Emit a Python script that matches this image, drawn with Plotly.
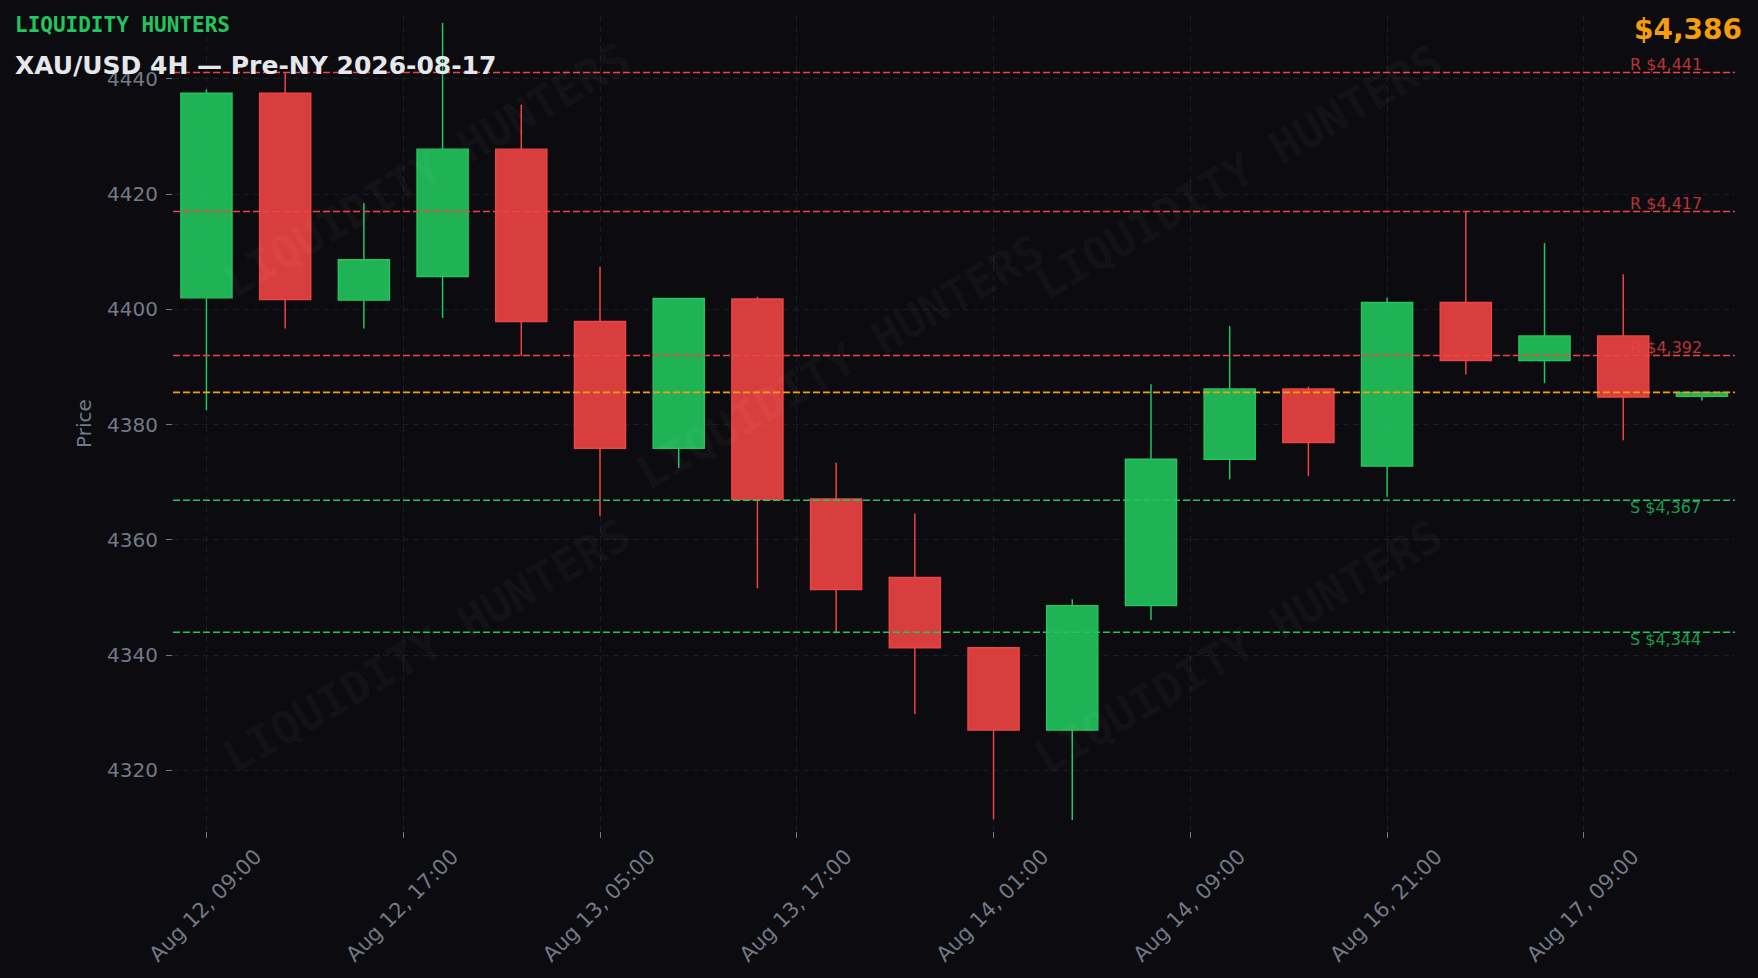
import plotly.graph_objects as go

# ---------------- data ----------------
opens = [4402.0, 4437.5, 4401.6, 4405.7, 4427.8, 4397.9, 4375.9, 4401.8, 4367.1, 4353.5,
         4341.3, 4327.0, 4348.6, 4374.0, 4386.2, 4372.8, 4401.2, 4391.1, 4395.4, 4384.9]
closes = [4437.5, 4401.7, 4408.6, 4427.8, 4397.9, 4375.9, 4401.9, 4367.0, 4351.4, 4341.3,
          4327.0, 4348.6, 4374.0, 4386.2, 4376.9, 4401.2, 4391.1, 4395.4, 4384.8, 4385.6]
highs = [4438.2, 4441.0, 4418.4, 4449.7, 4435.5, 4407.4, 4401.9, 4402.2, 4373.4, 4364.6,
         4341.3, 4349.7, 4387.0, 4397.1, 4386.6, 4402.0, 4416.9, 4411.5, 4406.1, 4385.7]
lows = [4382.5, 4396.7, 4396.7, 4398.5, 4391.9, 4364.2, 4372.5, 4351.6, 4343.8, 4329.8,
        4311.5, 4311.4, 4346.1, 4370.5, 4371.1, 4367.5, 4388.7, 4387.2, 4377.3, 4384.2]

tick_positions = [0, 2.5, 5, 7.5, 10, 12.5, 15, 17.5]
tick_labels = ["Aug 12, 09:00", "Aug 12, 17:00", "Aug 13, 05:00", "Aug 13, 17:00",
               "Aug 14, 01:00", "Aug 14, 09:00", "Aug 16, 21:00", "Aug 17, 09:00"]
price_ticks = [4320, 4340, 4360, 4380, 4400, 4420, 4440]

level_prices = [4441.1, 4417.0, 4392.0, 4366.9, 4344.0]
level_labels = ["R $4,441", "R $4,417", "R $4,392", "S $4,367", "S $4,344"]
level_kinds = ["R", "R", "R", "S", "S"]

current_price = 4385.6
current_label = "$4,386"
brand = "LIQUIDITY HUNTERS"
title_text = "XAU/USD 4H — Pre-NY 2026-08-17"

# ---------------- style ----------------
W, H = 1758, 978
ML, MR, MT, MB = 173, 23, 16, 147
BG = "#0b0b10"
GREEN = "#22c55e"
RED = "#ef4444"
ORANGE = "#f59e0b"
GRID = "#1c1c25"
TICK = "#737a87"


def px(x):
    return (x - ML) / (W - ML - MR)


def py(y):
    return (H - MB - y) / (H - MT - MB)


n = len(opens)
idx = list(range(n))
is_up = [c >= o for o, c in zip(opens, closes)]
body_base = [min(o, c) for o, c in zip(opens, closes)]
body_len = [abs(c - o) for o, c in zip(opens, closes)]

fig = go.Figure()

# wicks (split so bodies are not overdrawn)
for up_flag, col in ((True, GREEN), (False, RED)):
    wx, wy = [], []
    for i in idx:
        if is_up[i] != up_flag:
            continue
        top = max(opens[i], closes[i])
        bot = min(opens[i], closes[i])
        if highs[i] > top:
            wx += [i, i, None]
            wy += [top, highs[i], None]
        if lows[i] < bot:
            wx += [i, i, None]
            wy += [lows[i], bot, None]
    fig.add_trace(go.Scatter(x=wx, y=wy, mode="lines",
                             line=dict(color=col, width=1.5),
                             hoverinfo="skip", showlegend=False))

fig.add_trace(go.Bar(
    x=idx, y=body_len, base=body_base, width=0.65,
    marker=dict(color=["rgba(34,197,94,0.9)" if u else "rgba(239,68,68,0.9)" for u in is_up],
                line=dict(color=[GREEN if u else RED for u in is_up], width=1.4)),
    showlegend=False, hoverinfo="skip"))

shapes = []
for p, k in zip(level_prices, level_kinds):
    shapes.append(dict(type="line", xref="paper", x0=0, x1=1, yref="y", y0=p, y1=p,
                       line=dict(color=RED if k == "R" else GREEN, width=1.5, dash="7px,3px"),
                       layer="above"))
shapes.append(dict(type="line", xref="paper", x0=0, x1=1, yref="y", y0=current_price, y1=current_price,
                   line=dict(color=ORANGE, width=1.6, dash="7px,3px"), layer="above"))

annotations = []
# watermarks
for cx, cy in [(426, 170), (840, 362), (1238, 172), (426, 646), (1238, 647)]:
    annotations.append(dict(text=brand, xref="paper", yref="paper", x=px(cx), y=py(cy),
                            xanchor="center", yanchor="middle", showarrow=False, textangle=-30,
                            font=dict(family="DejaVu Sans Mono", size=45, color="rgba(255,255,255,0.045)",
                                      weight="bold")))
# level labels
for p, lab, k in zip(level_prices, level_labels, level_kinds):
    annotations.append(dict(text=lab, xref="paper", yref="y", x=px(1629), y=p,
                            xanchor="left", yanchor="bottom" if k == "R" else "top",
                            yshift=-3 if k == "R" else 3, showarrow=False, borderpad=0,
                            font=dict(family="DejaVu Sans", size=16,
                                      color="rgba(239,68,68,0.75)" if k == "R" else "rgba(34,197,94,0.78)")))
# headers
annotations.append(dict(text=brand, xref="paper", yref="paper", x=px(13), y=py(25),
                        xanchor="left", yanchor="middle", showarrow=False,
                        font=dict(family="DejaVu Sans Mono", size=21, color=GREEN, weight="bold")))
annotations.append(dict(text=title_text, xref="paper", yref="paper", x=px(13), y=py(66),
                        xanchor="left", yanchor="middle", showarrow=False,
                        font=dict(family="DejaVu Sans", size=25, color="#e5e7eb", weight="bold")))
annotations.append(dict(text=current_label, xref="paper", yref="paper", x=px(1744), y=py(29),
                        xanchor="right", yanchor="middle", showarrow=False,
                        font=dict(family="DejaVu Sans", size=28, color=ORANGE, weight="bold")))

fig.update_layout(
    width=W, height=H,
    margin=dict(l=ML, r=MR, t=MT, b=MB, pad=0, autoexpand=False),
    paper_bgcolor=BG, plot_bgcolor=BG,
    font=dict(family="DejaVu Sans", color=TICK, size=20),
    shapes=shapes, annotations=annotations,
    showlegend=False,
    xaxis=dict(range=[-0.425, 19.42], tickmode="array", tickvals=tick_positions, ticktext=tick_labels,
               tickangle=-45, ticks="outside", ticklen=6, tickwidth=1.2, tickcolor=TICK,
               tickfont=dict(size=21, color=TICK),
               ticklabelshift=49, ticklabelstandoff=-2, automargin=False,
               showgrid=True, gridcolor=GRID, gridwidth=1.2, griddash="6px,4px",
               zeroline=False, showline=False, fixedrange=True),
    yaxis=dict(range=[4309.5, 4450.9], tickmode="array", tickvals=price_ticks,
               ticks="outside", ticklen=6, tickwidth=1.2, tickcolor=TICK,
               tickfont=dict(size=20, color=TICK), ticklabelstandoff=4, automargin=False,
               title=dict(text="Price", font=dict(size=20, color=TICK), standoff=10),
               showgrid=True, gridcolor=GRID, gridwidth=1.2, griddash="6px,4px",
               zeroline=False, showline=False, fixedrange=True),
)

fig.write_html(
    "out.html",
    config={"displayModeBar": False},
    post_script=("document.body.style.margin='0';document.body.style.padding='0';"
                 "document.body.style.overflow='hidden';"
                 "document.body.style.background='" + BG + "';"),
)
